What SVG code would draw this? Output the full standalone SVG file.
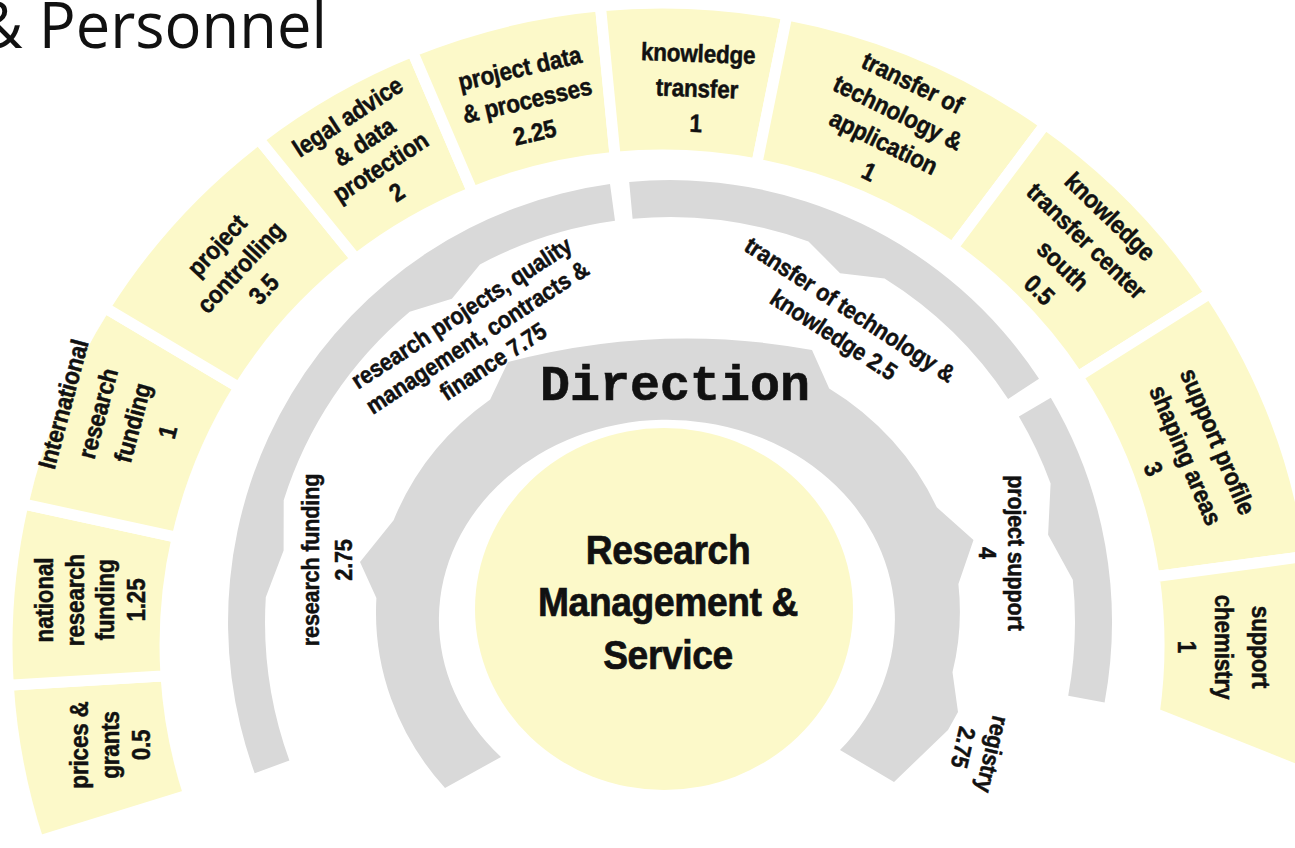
<svg xmlns="http://www.w3.org/2000/svg" width="1295" height="848" viewBox="0 0 1295 848">
<style>
.box{fill:#FCF9C9;stroke:#FFFFFF;stroke-width:11;stroke-linejoin:miter}
.brace{fill:#D9D9D9}
.hub{fill:#FCF9C9}
.t{font-family:'Liberation Sans',Arial,Helvetica,sans-serif;font-weight:bold;font-size:25px;fill:#111;stroke:#111;stroke-width:0.5px;text-anchor:middle;letter-spacing:-0.2px}
.cat{font-size:24px}
.hubt{font-size:40px;stroke-width:0.7px;letter-spacing:-0.4px}
.dir{font-family:'Liberation Mono','Courier New',monospace;font-weight:bold;font-size:50px;fill:#111;stroke:#111;stroke-width:0.6px;text-anchor:middle}
.title{font-family:'Open Sans','Noto Sans',sans-serif;font-size:64px;fill:#111}
</style>
<rect width="1295" height="848" fill="#FFFFFF"/>
<text class="title" x="-22" y="48" textLength="349" lengthAdjust="spacingAndGlyphs">&amp; Personnel</text>

<g id="connectors">
<path id="brace-direction" class="brace" d="M 445 788 A 292 272 0 0 1 376.4 598 L 360 562 L 393.6 520.3 A 292 272 0 0 1 490.2 399.4 L 508 362 Q 660 322 812 350 L 829.2 388.5 A 292 272 0 0 1 936.8 507.3 L 973.5 540 L 958.4 584 A 292 272 0 0 1 952.5 672.3 L 958 712 L 948 730 L 894 782 L 840 750 A 228 200 0 1 0 501 757 Z"/>
<path id="brace-left" class="brace" d="M 254.7 773.2 A 442 442 0 0 1 610 184.1 L 615 220.8 A 405 405 0 0 0 479.9 264.4 L 451.9 298.7 L 409.7 311.8 A 405 405 0 0 0 283.7 500.2 L 283.6 550.4 L 265.8 597.3 A 405 405 0 0 0 289.4 760.5 Z"/>
<path id="brace-transfer" class="brace" d="M 629.2 181.9 A 442 442 0 0 1 1039 378.7 L 1008.1 399 A 405 405 0 0 0 884.6 278.6 L 840.1 273.3 L 808.5 241.4 A 405 405 0 0 0 632.6 218.7 Z"/>
<path id="brace-project-support" class="brace" d="M 1050.8 397.7 A 442 442 0 0 1 1104.6 702.5 L 1068.2 695.8 A 405 405 0 0 0 1072.8 579.7 L 1048.1 534.7 L 1050.6 483.5 A 405 405 0 0 0 1018.9 416.5 Z"/>
</g>

<g id="hub">
<ellipse class="hub" cx="664" cy="609" rx="189" ry="181"/>
<g transform="translate(668,0) scale(0.93,1)">
<text class="t hubt" x="0" y="564">Research</text>
<text class="t hubt" x="0" y="616">Management &amp;</text>
<text class="t hubt" x="0" y="669">Service</text>
</g>
</g>

<g id="direction">
<text class="dir" x="675" y="400">Direction</text>
</g>

<g id="cat-research-funding" transform="translate(327,560) rotate(-90) scale(0.9,1)">
<text class="t cat" y="-8">research funding</text>
<text class="t cat" y="25">2.75</text>
</g>
<g id="cat-research-projects" transform="translate(477,337) rotate(-33) scale(0.9,1)">
<text class="t cat" y="-20.5">research projects, quality</text>
<text class="t cat" y="8.5">management, contracts &amp;</text>
<text class="t cat" y="37.5">finance 7.75</text>
</g>
<g id="cat-transfer" transform="translate(842,322) rotate(33) scale(0.9,1)">
<text class="t cat" y="-6.5">transfer of technology &amp;</text>
<text class="t cat" y="23.5">knowledge 2.5</text>
</g>
<g id="cat-project-support" transform="translate(1002,553) rotate(90) scale(0.9,1)">
<text class="t cat" y="-6.5">project support</text>
<text class="t cat" y="23.5">4</text>
</g>
<g id="cat-registry" transform="translate(978,751) rotate(103) scale(0.9,1)">
<text class="t cat" y="-6.5">registry</text>
<text class="t cat" y="23.5">2.75</text>
</g>

<g id="leaf-prices-grants">
<path class="box" d="M 188.8 794.8 L 38.4 841.3 A 655 642 0 0 1 8.3 685.3 L 166 675.8 A 497 490 0 0 0 188.8 794.8 Z"/>
<g transform="translate(110,745) rotate(-90) scale(0.9,1)">
<text class="t" y="-22">prices &amp;</text>
<text class="t" y="9">grants</text>
<text class="t" y="40">0.5</text>
</g>
</g>
<g id="leaf-national">
<path class="box" d="M 166 675.8 L 8.3 685.3 A 655 642 0 0 1 23 503.9 L 177.2 537.3 A 497 490 0 0 0 166 675.8 Z"/>
<g transform="translate(90,600) rotate(-90) scale(0.9,1)">
<text class="t" y="-37.5">national</text>
<text class="t" y="-6.5">research</text>
<text class="t" y="24.5">funding</text>
<text class="t" y="55.5">1.25</text>
</g>
</g>
<g id="leaf-international">
<path class="box" d="M 177.2 537.3 L 23 503.9 A 655 642 0 0 1 104.7 307.6 L 239.1 387.5 A 497 490 0 0 0 177.2 537.3 Z"/>
<g transform="translate(115,418) rotate(-75) scale(0.9,1)">
<text class="t" y="-45">International</text>
<text class="t" y="-9">research</text>
<text class="t" y="27">funding</text>
<text class="t" y="63">1</text>
</g>
</g>
<g id="leaf-controlling">
<path class="box" d="M 239.1 387.5 L 104.7 307.6 A 655 642 0 0 1 258.7 139.1 L 356 258.9 A 497 490 0 0 0 239.1 387.5 Z"/>
<g transform="translate(240,267) rotate(-47) scale(0.9,1)">
<text class="t" y="-23">project</text>
<text class="t" y="9">controlling</text>
<text class="t" y="41">3.5</text>
</g>
</g>
<g id="leaf-legal">
<path class="box" d="M 356 258.9 L 258.7 139.1 A 655 642 0 0 1 412.4 51.5 L 472.6 192 A 497 490 0 0 0 356 258.9 Z"/>
<g transform="translate(372,154) rotate(-33) scale(0.9,1)">
<text class="t" y="-36">legal advice</text>
<text class="t" y="-6">&amp; data</text>
<text class="t" y="24">protection</text>
<text class="t" y="54">2</text>
</g>
</g>
<g id="leaf-project-data">
<path class="box" d="M 472.6 192 L 412.4 51.5 A 655 642 0 0 1 600.4 5.8 L 615.2 157.2 A 497 490 0 0 0 472.6 192 Z"/>
<g transform="translate(527,100) rotate(-13) scale(0.9,1)">
<text class="t" y="-24">project data</text>
<text class="t" y="9">&amp; processes</text>
<text class="t" y="42">2.25</text>
</g>
</g>
<g id="leaf-knowledge-transfer">
<path class="box" d="M 615.2 157.2 L 600.4 5.8 A 655 642 0 0 1 787 14.8 L 756.8 164 A 497 490 0 0 0 615.2 157.2 Z"/>
<g transform="translate(697,88) rotate(2) scale(0.9,1)">
<text class="t" y="-26">knowledge</text>
<text class="t" y="9">transfer</text>
<text class="t" y="44">1</text>
</g>
</g>
<g id="leaf-transfer-application">
<path class="box" d="M 756.8 164 L 787 14.8 A 655 642 0 0 1 1045.2 124.3 L 952.7 247.6 A 497 490 0 0 0 756.8 164 Z"/>
<g transform="translate(891,127) rotate(26) scale(0.9,1)">
<text class="t" y="-40.5">transfer of</text>
<text class="t" y="-7.5">technology &amp;</text>
<text class="t" y="25.5">application</text>
<text class="t" y="58.5">1</text>
</g>
</g>
<g id="leaf-ktc-south">
<path class="box" d="M 952.7 247.6 L 1045.2 124.3 A 655 642 0 0 1 1210.1 293.4 L 1077.9 376.7 A 497 490 0 0 0 952.7 247.6 Z"/>
<g transform="translate(1075,253) rotate(44) scale(0.9,1)">
<text class="t" y="-42">knowledge</text>
<text class="t" y="-8">transfer center</text>
<text class="t" y="26">south</text>
<text class="t" y="60">0.5</text>
</g>
</g>
<g id="leaf-profile-areas">
<path class="box" d="M 1077.9 376.7 L 1210.1 293.4 A 655 642 0 0 1 1310.6 555.6 L 1154.2 576.8 A 497 490 0 0 0 1077.9 376.7 Z"/>
<g transform="translate(1186,455) rotate(67) scale(0.9,1)">
<text class="t" y="-26">support profile</text>
<text class="t" y="9">shaping areas</text>
<text class="t" y="44">3</text>
</g>
</g>
<g id="leaf-chemistry">
<path class="box" d="M 1154.2 576.8 L 1310.6 555.6 A 655 642 0 0 1 1310.6 734.4 L 1310 775 L 1154.2 713.2 A 497 490 0 0 0 1154.2 576.8 Z"/>
<g transform="translate(1224,647) rotate(90) scale(0.9,1)">
<text class="t" y="-28">support</text>
<text class="t" y="9">chemistry</text>
<text class="t" y="46">1</text>
</g>
</g>
</svg>
